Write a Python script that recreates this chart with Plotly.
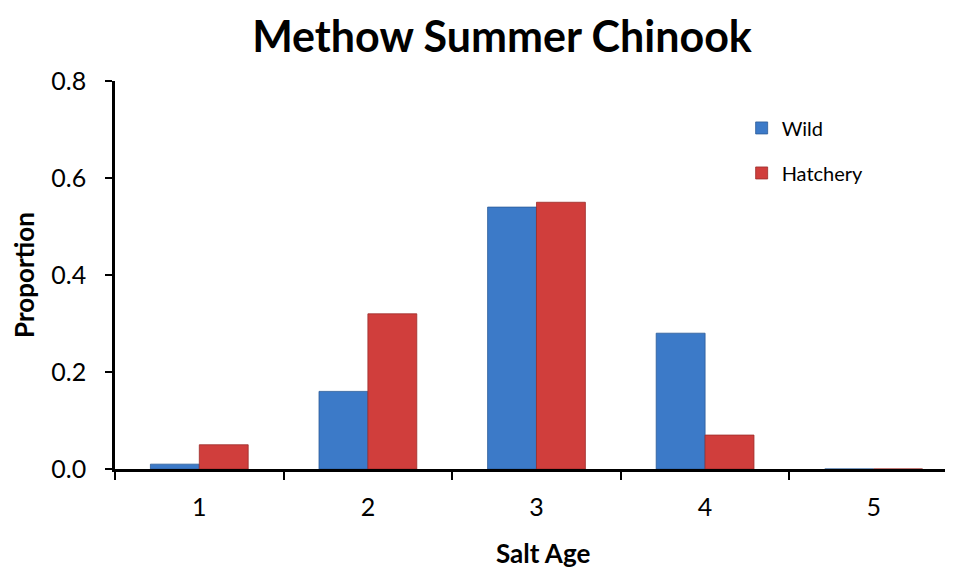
import plotly.graph_objects as go

categories = ["1", "2", "3", "4", "5"]
wild = [0.01, 0.16, 0.54, 0.28, 0.0]
hatchery = [0.05, 0.32, 0.55, 0.07, 0.0]
y_ticks = [0.0, 0.2, 0.4, 0.6, 0.8]
y_tick_labels = ["0.0", "0.2", "0.4", "0.6", "0.8"]

FONT = "Lato, Carlito, Calibri, 'Open Sans', sans-serif"

W, H = 937, 561

fig = go.Figure()
fig.add_trace(go.Bar(
    x=categories, y=wild, name="Wild",
    marker=dict(color="#3c7ac8", line=dict(color="#2c5c98", width=0.8)),
    legend="legend",
))
fig.add_trace(go.Bar(
    x=categories, y=hatchery, name="Hatchery",
    marker=dict(color="#d03e3c", line=dict(color="#9c2c2a", width=0.8)),
    legend="legend2",
))

fig.update_layout(
    width=W, height=H,
    paper_bgcolor="white", plot_bgcolor="white",
    font=dict(family=FONT, color="black"),
    title=dict(text="<b>Methow Summer Chinook</b>", x=494 / W, xanchor="center",
               y=1 - 29 / H, yanchor="middle", font=dict(size=43, family=FONT)),
    margin=dict(l=107, r=0, t=73, b=H - 461),
    barmode="group", bargap=0.42, bargroupgap=0,
    showlegend=True,
    legend=dict(x=0.755, y=0.879, xanchor="left", yanchor="middle", itemwidth=30,
                font=dict(size=20, family=FONT), bgcolor="rgba(0,0,0,0)"),
    legend2=dict(x=0.755, y=0.763, xanchor="left", yanchor="middle", itemwidth=30,
                 font=dict(size=20, family=FONT), bgcolor="rgba(0,0,0,0)"),
    annotations=[dict(
        text="<b>Salt Age</b>", xref="paper", yref="paper",
        x=(535 - 107) / 830, y=(461 - 545) / 388, xanchor="center", yanchor="middle",
        showarrow=False, font=dict(size=26, family=FONT),
    )],
)

fig.update_xaxes(
    type="category", range=[-0.5, 4.423], automargin=False,
    tickson="boundaries", ticks="outside", ticklen=8, tickwidth=2, tickcolor="black",
    showline=True, linecolor="black", linewidth=2.5,
    showgrid=False, zeroline=False,
    tickfont=dict(size=25, family=FONT), ticklabelstandoff=14,
)
fig.update_yaxes(
    range=[0, 0.8], tickvals=y_ticks, ticktext=y_tick_labels, automargin=False,
    ticks="outside", ticklen=7, tickwidth=2, tickcolor="black",
    showline=True, linecolor="black", linewidth=2.5,
    showgrid=False, zeroline=False,
    tickfont=dict(size=25, family=FONT), ticklabelstandoff=14,
    title=dict(text="<b>Proportion</b>", font=dict(size=26, family=FONT), standoff=14),
)

fig.write_html("out.html")
